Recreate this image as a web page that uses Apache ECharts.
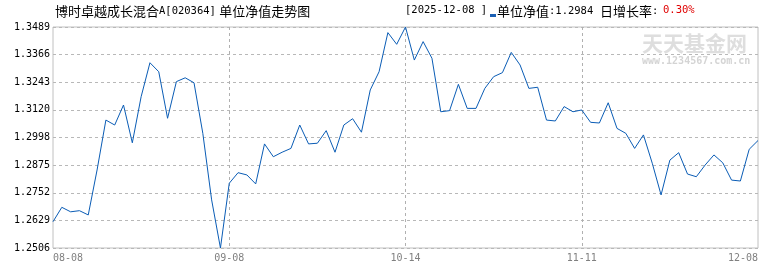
<!DOCTYPE html>
<html><head><meta charset="utf-8">
<script src="https://cdn.jsdelivr.net/npm/echarts@6/dist/echarts.min.js"></script>
<style>html,body{margin:0;padding:0;background:#fff}#c{width:770px;height:270px}</style>
</head><body><div id="c"></div>
<script>
const dates = ['08-08','08-11','08-12','08-13','08-14','08-15','08-18','08-19','08-20','08-21','08-22','08-25','08-26','08-27','08-28','08-29','09-01','09-02','09-03','09-04','09-05','09-08','09-09','09-10','09-11','09-12','09-15','09-16','09-17','09-18','09-19','09-22','09-23','09-24','09-25','09-26','09-29','09-30','10-09','10-10','10-13','10-14','10-15','10-16','10-17','10-20','10-21','10-22','10-23','10-24','10-27','10-28','10-29','10-30','10-31','11-03','11-04','11-05','11-06','11-07','11-10','11-11','11-12','11-13','11-14','11-17','11-18','11-19','11-20','11-21','11-24','11-25','11-26','11-27','11-28','12-01','12-02','12-03','12-04','12-05','12-08'];
const navValues = [1.2623,1.2687,1.2667,1.2672,1.2653,1.2853,1.3075,1.3053,1.3142,1.2974,
1.3179,1.3330,1.3290,1.3083,1.3246,1.3263,1.3241,1.3016,1.2720,1.2506,
1.2794,1.2841,1.2831,1.2791,1.2969,1.2912,1.2932,1.2949,1.3053,1.2969,
1.2972,1.3028,1.2932,1.3053,1.3081,1.3021,1.3209,1.3290,1.3464,1.3412,
1.3489,1.3342,1.3424,1.3350,1.3112,1.3117,1.3234,1.3127,1.3127,1.3216,
1.3268,1.3286,1.3376,1.3320,1.3216,1.3221,1.3075,1.3071,1.3135,1.3112,
1.3120,1.3065,1.3062,1.3152,1.3038,1.3016,1.2949,1.3009,1.2883,1.2742,
1.2897,1.2930,1.2835,1.2823,1.2875,1.2920,1.2885,1.2808,1.2804,1.2945,
1.2984];
const yTickLabels = ['1.2506','1.2629','1.2752','1.2875','1.2998','1.3120','1.3243','1.3366','1.3489'];
const xTickLabels = ['08-08','09-08','10-14','11-11','12-08'];
const xTickIndex = [0,20,40,60,80];
const fundName = '博时卓越成长混合';
const fundCode = 'A[020364]';
const titleTail = '单位净值走势图';
const latestDate = '2025-12-08';
const latestNav = '1.2984';
const dailyGrowth = '0.30%';

const chart = echarts.init(document.getElementById('c'), null, {renderer:'canvas'});
const cjk = '"Noto Sans CJK SC", sans-serif';
const mono = '"DejaVu Sans Mono", monospace';
const richBase = {
  c:{fontFamily:cjk,fontSize:13,fill:'#000'},
  m:{fontFamily:mono,fontSize:10.5,fill:'#000'},
  r:{fontFamily:mono,fontSize:10.5,fill:'#e00000'}
};
chart.setOption({
  animation:false,
  backgroundColor:'#fff',
  grid:{left:53,right:12,top:27,bottom:22,show:true,borderColor:'#c0c0c0',borderWidth:1,backgroundColor:'transparent'},
  xAxis:{type:'category',data:dates,boundaryGap:false,
    axisLine:{show:false},axisTick:{show:false},
    axisLabel:{interval:(i)=>xTickIndex.indexOf(i)>=0,color:'#808080',fontFamily:mono,fontSize:10,margin:5,
      alignMinLabel:'left',alignMaxLabel:'right',showMinLabel:true,showMaxLabel:true,
      formatter:(v,i)=>{const k=xTickIndex.indexOf(i);return k>=0?xTickLabels[k]:'';}},
    splitLine:{show:true,interval:(i)=>i>0&&i<80&&xTickIndex.indexOf(i)>=0,lineStyle:{color:'#b0b0b0',type:[3,3],width:1}}
  },
  yAxis:[
    {type:'value',min:1.2506,max:1.3489,show:false,splitLine:{show:false}},
    {type:'value',min:0,max:8,interval:1,position:'left',
      axisLine:{show:false},axisTick:{show:false},
      axisLabel:{color:'#000',fontFamily:mono,fontSize:10,margin:3,formatter:(v)=>yTickLabels[Math.round(v)]},
      splitLine:{show:true,lineStyle:{color:'#b8b8b8',type:[3,3],width:1}}}
  ],
  series:[{type:'line',data:navValues,yAxisIndex:0,showSymbol:false,symbol:'none',
    lineStyle:{color:'#0a5cb5',width:1},z:3}],
  graphic:[
    {type:'text',left:55,top:5,style:{text:'{c|'+fundName+'}{m|'+fundCode+'} {c|'+titleTail+'}',rich:richBase}},
    {type:'text',left:405,top:5,style:{text:'{m|['+latestDate+' ]}',rich:richBase}},
    {type:'rect',left:490,top:14,shape:{width:6,height:3},style:{fill:'#1a5fb4'}},
    {type:'text',left:497,top:5,style:{text:'{c|单位净值}{m|:'+latestNav+'}',rich:richBase}},
    {type:'text',left:600,top:5,style:{text:'{c|日增长率}{m|:}',rich:richBase}},
    {type:'text',left:663,top:5,style:{text:'{r|'+dailyGrowth+'}',rich:richBase}},
    {type:'text',left:642,top:33,z:0,style:{text:'天天基金网',font:'bold 21px '+cjk,fill:'#dedede'}},
    {type:'text',left:642,top:56,z:0,style:{text:'www.1234567.com.cn',font:'bold 10px '+mono,fill:'#d4d4d4'}}
  ]
});
</script></body></html>
